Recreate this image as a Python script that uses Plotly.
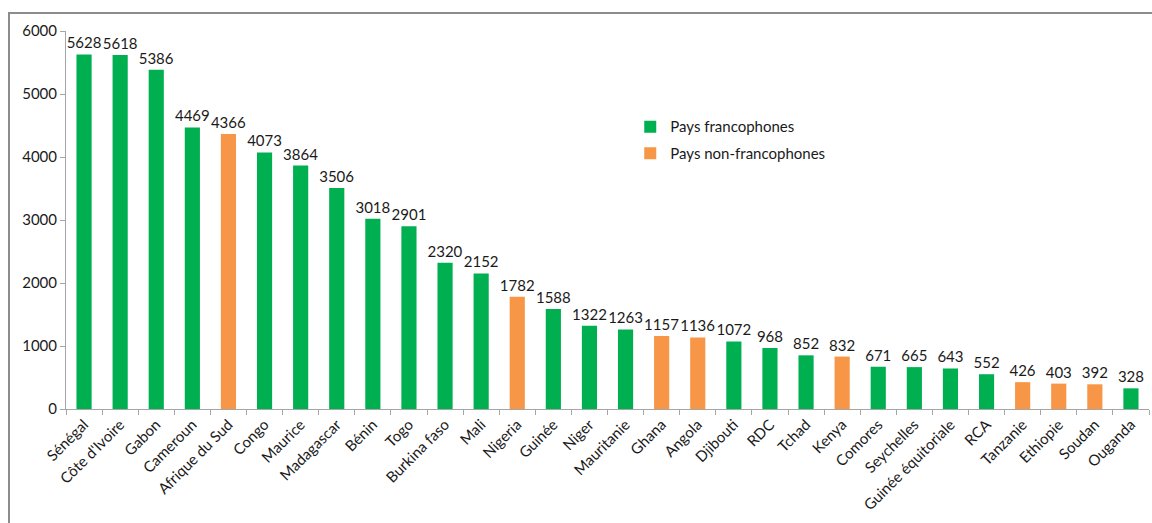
import plotly.graph_objects as go

countries = ["Sénégal", "Côte d'Ivoire", "Gabon", "Cameroun", "Afrique du Sud", "Congo",
             "Maurice", "Madagascar", "Bénin", "Togo", "Burkina faso", "Mali", "Nigeria",
             "Guinée", "Niger", "Mauritanie", "Ghana", "Angola", "Djibouti", "RDC", "Tchad",
             "Kenya", "Comores", "Seychelles", "Guinée équitoriale", "RCA", "Tanzanie",
             "Ethiopie", "Soudan", "Ouganda"]
values = [5628, 5618, 5386, 4469, 4366, 4073, 3864, 3506, 3018, 2901, 2320, 2152, 1782,
          1588, 1322, 1263, 1157, 1136, 1072, 968, 852, 832, 671, 665, 643, 552, 426,
          403, 392, 328]
francophone = [True, True, True, True, False, True, True, True, True, True, True, True, False,
               True, True, True, False, False, True, True, True, False, True, True, True, True,
               False, False, False, True]

GREEN = "#00B050"
ORANGE = "#F79646"
FONT = "Lato"
TEXT = "#1a1a1a"

fr_vals = [v if f else None for v, f in zip(values, francophone)]
nf_vals = [None if f else v for v, f in zip(values, francophone)]

fig = go.Figure()
for i, (name, vals, color) in enumerate([("Pays francophones", fr_vals, GREEN),
                                         ("Pays non-francophones", nf_vals, ORANGE)]):
    fig.add_trace(go.Bar(
        x=countries, y=vals, name=name, legendgroup=f"g{i}",
        marker=dict(color=color, line=dict(width=0)),
        text=[("" if v is None else str(v)) for v in vals],
        textposition="outside", cliponaxis=False, constraintext="none",
        textfont=dict(family=FONT, size=15, color=TEXT),
    ))

fig.update_layout(
    width=1152, height=523,
    margin=dict(l=66, r=3, t=31, b=114),
    paper_bgcolor="white", plot_bgcolor="white",
    barmode="overlay", bargap=0.58,
    font=dict(family=FONT, size=14, color=TEXT),
    showlegend=True,
    legend=dict(x=0.521, y=0.79, xanchor="left", yanchor="top",
                bgcolor="rgba(0,0,0,0)", font=dict(family=FONT, size=15, color=TEXT),
                traceorder="grouped", tracegroupgap=4),
    xaxis=dict(tickangle=-45, tickson="boundaries", ticks="outside", ticklen=5,
               tickcolor="#A6A6A6", showline=True, linecolor="#A6A6A6", linewidth=1,
               showgrid=False, tickfont=dict(family=FONT, size=15, color=TEXT)),
    yaxis=dict(range=[0, 6000], dtick=1000, ticks="outside", ticklen=5,
               tickcolor="#A6A6A6", showline=True, linecolor="#A6A6A6", linewidth=1,
               showgrid=False, zeroline=False,
               tickfont=dict(family=FONT, size=15, color=TEXT)),
    shapes=[dict(type="rect", xref="paper", yref="paper",
                 x0=(9 - 66) / 1083, x1=1.05, y0=-0.5, y1=(409 - 13) / 378,
                 line=dict(color="#8C8C8C", width=2), layer="below")],
)

fig.write_html("out.html")
